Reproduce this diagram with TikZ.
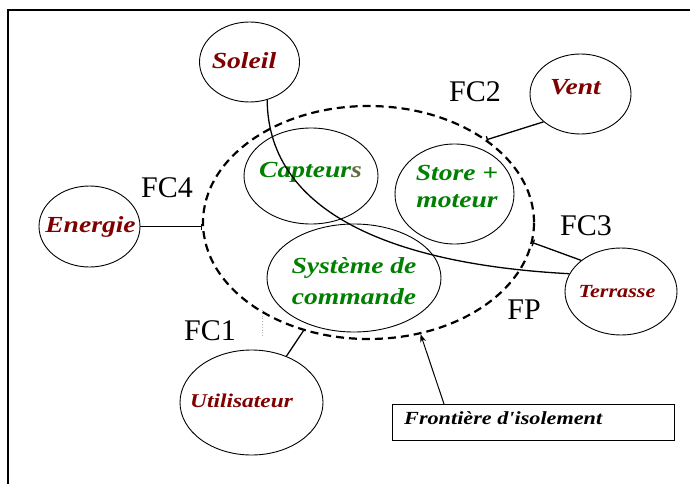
\documentclass[tikz,border=0pt]{standalone}
\usepackage{fontspec}
\setmainfont{Liberation Serif}
\newfontfamily\scr[FakeStretch=1.2]{Liberation Serif}
\usetikzlibrary{shapes.geometric,arrows.meta}
\definecolor{dred}{RGB}{128,0,0}
\definecolor{dgreen}{RGB}{0,128,0}
\definecolor{olivs}{RGB}{95,110,65}
\begin{document}
\begin{tikzpicture}[x=1pt,y=-1pt,
  ell/.style={draw, ellipse, line width=0.9pt, inner sep=0pt},
  ext/.style={font=\scr\bfseries\itshape\fontsize{23}{27}\selectfont, text=dred, inner sep=0pt, anchor=base},
  int/.style={font=\scr\bfseries\itshape\fontsize{23}{27}\selectfont, text=dgreen, inner sep=0pt, align=center},
  fc/.style={font=\fontsize{30}{34}\selectfont, inner sep=0pt, anchor=base},
  conn/.style={line width=1.3pt},
  bnd/.style={draw, ellipse, line width=2.2pt, dash pattern=on 8pt off 5pt, inner sep=0pt}
]
\useasboundingbox (0,0) rectangle (690,484);
\fill[white] (0,0) rectangle (690,484);
% frame
\draw[line width=1.2pt] (8,484) -- (8,10) -- (690,10);

% boundary
\node[bnd, minimum width=331pt, minimum height=233pt] (boundary) at (368.5,222.5) {};

% external elements
\node[ell, minimum width=100pt, minimum height=80pt] (soleil) at (249.5,62) {};
\node[ell, minimum width=101pt, minimum height=81pt] (energie) at (89.5,226.5) {};
\node[ell, minimum width=101pt, minimum height=80pt] (vent) at (580.5,94) {};
\node[ell, minimum width=143pt, minimum height=105pt] (util) at (251.5,402.5) {};
\node[ell, minimum width=112pt, minimum height=87pt] (terrasse) at (621,291.5) {};

% internal elements
\node[ell, minimum width=134pt, minimum height=96pt] (capteurs) at (311,176) {};
\node[ell, minimum width=119pt, minimum height=100pt] (store) at (454.5,194) {};
\node[ell, minimum width=174pt, minimum height=108pt] (syst) at (354,278) {};

% texts
\node[ext] (tsoleil) at (244,69) {Soleil};
\node[ext] (tenergie) at (90.5,232) {Energie};
\node[ext] (tvent) at (575.5,95) {Vent};
\node[ext, font=\scr\bfseries\itshape\fontsize{18.5}{22}\selectfont] (tterrasse) at (617,297) {Terrasse};
\node[ext, font=\scr\bfseries\itshape\fontsize{19.5}{23}\selectfont] (tutil) at (241.5,407) {Utilisateur};
\node[int, anchor=base] (tcapteurs) at (310.5,177) {Capteur\textcolor{olivs}{s}};
\node[int] (tstore) at (457,187) {Store +\\moteur};
\node[int, font=\scr\bfseries\itshape\fontsize{23}{31}\selectfont] (tsyst) at (354,281) {Système de\\commande};

% FC labels
\node[fc] (fc1) at (210,340) {FC1};
\node[fc] (fc2) at (475,102) {FC2};
\node[fc] (fc3) at (586,235) {FC3};
\node[fc] (fc4) at (167,197) {FC4};
\node[fc] (fp) at (524,319) {FP};

% connectors
\draw[conn] (soleil.-65) .. controls +(1,116) and +(-170,-9) .. (terrasse.161);
\draw[conn, -{Bar[width=7pt, line width=1.3pt]}] (vent.217) -- (boundary.35);
\draw[conn, -{Bar[width=7pt, line width=1.3pt]}] (terrasse.142) -- (boundary.-7);
\draw[conn, -{Bar[width=6pt, line width=1.3pt]}] (energie.east) -- (energie.east -| boundary.west);
\draw[conn] (util.53) -- (boundary.239);
\coordinate (fca) at (262,310);
\coordinate (fcb) at (262,337);
\draw[dotted, gray!60, line width=0.8pt] (fca) -- (fcb);

% isolation frontier box
\node[draw, line width=1pt, minimum width=282pt, minimum height=36pt, anchor=north west, inner sep=0pt] (box) at (392,404) {};
\node[ext, text=black, anchor=base west, font=\scr\bfseries\itshape\fontsize{18.5}{22}\selectfont] (tbox) at (404,424) {Frontière d'isolement};
\draw[line width=1pt, -{Stealth[length=8pt, width=6pt]}] ([xshift=52pt]box.north west) -- (boundary.295);
\end{tikzpicture}
\end{document}
